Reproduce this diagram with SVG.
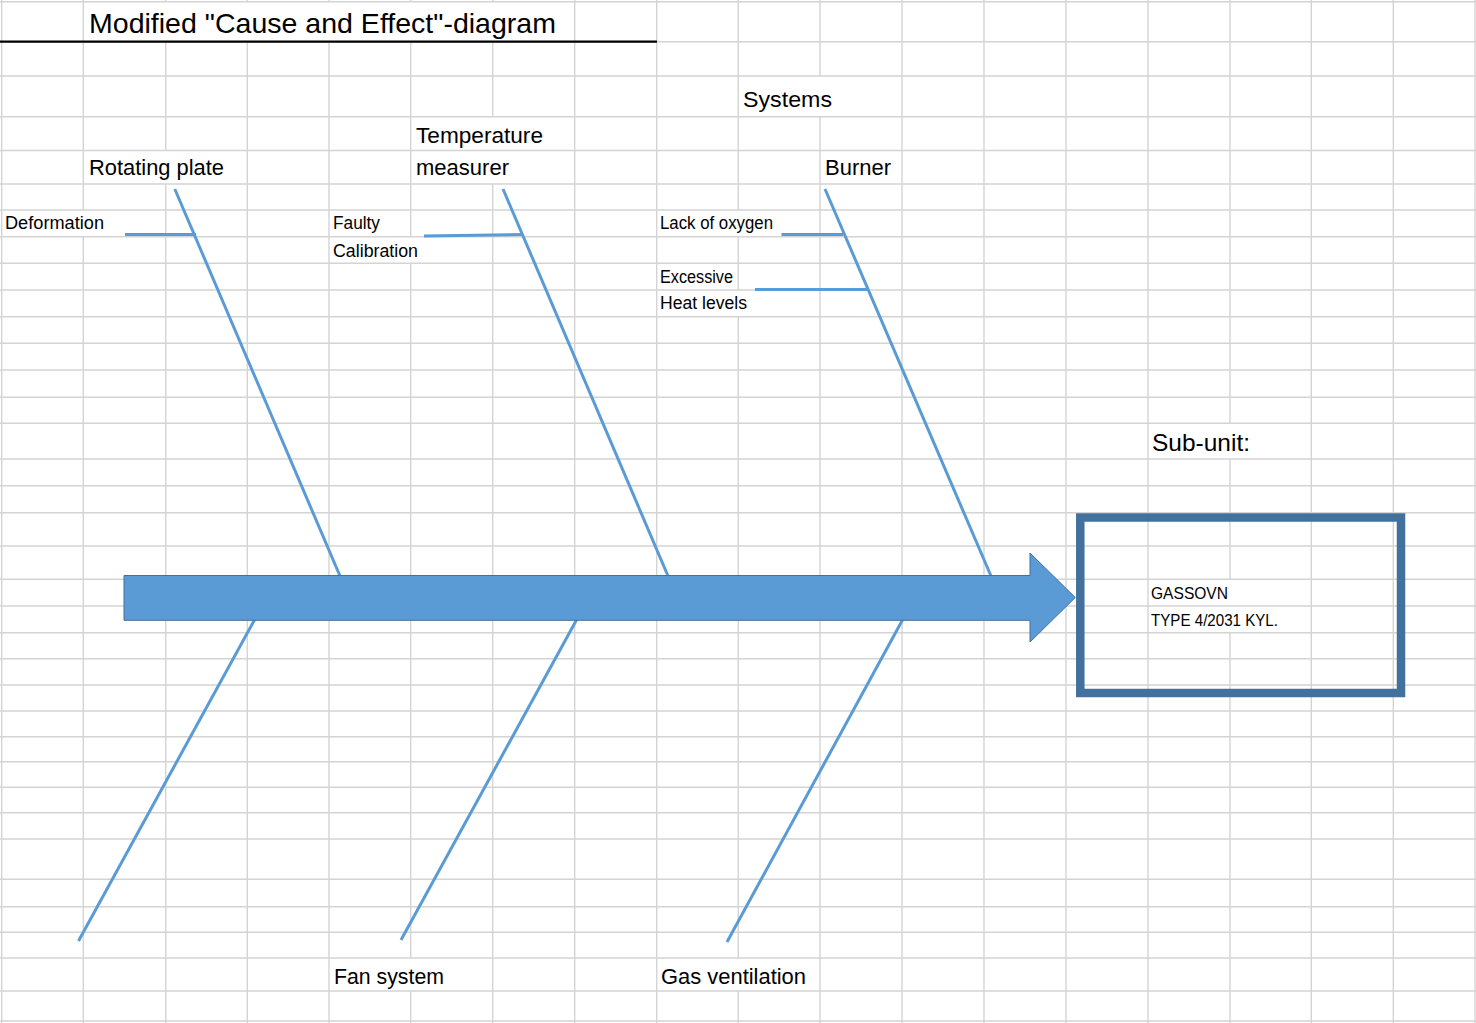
<svg xmlns="http://www.w3.org/2000/svg" width="1476" height="1023" viewBox="0 0 1476 1023">
<style>
.grid{stroke:#D4D4D4;stroke-width:1.4;fill:none}
.bone{stroke:#5B9BD5;stroke-width:3;fill:none;stroke-linecap:butt}
.t{font-family:"Liberation Sans",Arial,sans-serif;fill:#000}
.title{font-size:28.5px}
.cat{font-size:22px}
.cause{font-size:17.5px}
.sub{font-size:24.5px}
.unit{font-size:16.5px}
</style>
<rect width="1476" height="1023" fill="#FFFFFF"/>
<g id="grid">
<path class="grid" d="M0 1.7H1476M0 41.7H1476M0 76H1476M0 116.7H1476M0 150.5H1476M0 184H1476M0 210H1476M0 236.7H1476M0 263.3H1476M0 290H1476M0 316.7H1476M0 343.3H1476M0 370H1476M0 397.3H1476M0 423.3H1476M0 459H1476M0 485.7H1476M0 512.7H1476M0 546H1476M0 579.3H1476M0 606H1476M0 632.7H1476M0 658.7H1476M0 685H1476M0 711H1476M0 736.7H1476M0 761.7H1476M0 787.3H1476M0 812.7H1476M0 839H1476M0 879.3H1476M0 906.7H1476M0 932.3H1476M0 958H1476M0 991H1476M0 1021H1476"/>
<path class="grid" d="M1.7 0V1023
M83.3 0V210M83.3 236.7V1023
M165.7 0V1.7M165.7 41.7V150.5M165.7 184V1023
M247.3 0V1.7M247.3 41.7V1023
M329 0V1.7M329 41.7V1023
M410.7 0V1.7M410.7 41.7V236.7M410.7 263.3V958M410.7 991V1023
M492.7 0V1.7M492.7 41.7V116.7M492.7 184V1023
M574.7 0V1023
M656.7 0V1023
M738.3 0V210M738.3 236.7V290M738.3 316.7V958M738.3 991V1023
M820 0V76M820 116.7V1023
M902 0V1023
M984 0V1023
M1066 0V1023
M1148 0V1023
M1230 0V423.3M1230 459V579.3M1230 632.7V1023
M1311.3 0V1023
M1393.3 0V1023
M1475 0V1023"/>
</g>
<g id="title">
<line x1="0" y1="41.7" x2="657" y2="41.7" stroke="#000" stroke-width="2.2"/>
<text class="t title" x="89" y="33" textLength="467" lengthAdjust="spacingAndGlyphs">Modified "Cause and Effect"-diagram</text>
</g>
<g id="connectors">
<line class="bone" x1="174.8" y1="189" x2="340" y2="576"/>
<line class="bone" x1="503" y1="189" x2="668" y2="576"/>
<line class="bone" x1="825" y1="189" x2="991" y2="576"/>
<line class="bone" x1="125" y1="234.5" x2="196" y2="234.5"/>
<line class="bone" x1="424" y1="236" x2="523" y2="234.5"/>
<line class="bone" x1="781.5" y1="234.5" x2="843" y2="234.5"/>
<line class="bone" x1="755" y1="289.5" x2="867.5" y2="289.5"/>
<line class="bone" x1="255" y1="619" x2="78.5" y2="941"/>
<line class="bone" x1="577" y1="619" x2="401" y2="940"/>
<line class="bone" x1="903" y1="619" x2="727" y2="942"/>
</g>
<g id="spine">
<path d="M124 575.5H1030V553L1075.3 597.5L1030 642V620.3H124Z" fill="#5B9BD5" stroke="#41719C" stroke-width="1"/>
</g>
<g id="cat-rotating-plate"><text class="t cat" x="89" y="175" textLength="135" lengthAdjust="spacingAndGlyphs">Rotating plate</text></g>
<g id="cat-temperature"><text class="t cat" x="416" y="143" textLength="127" lengthAdjust="spacingAndGlyphs">Temperature</text><text class="t cat" x="416" y="175" textLength="93" lengthAdjust="spacingAndGlyphs">measurer</text></g>
<g id="cat-systems"><text class="t cat" x="743" y="106.7" textLength="89" lengthAdjust="spacingAndGlyphs">Systems</text></g>
<g id="cat-burner"><text class="t cat" x="825" y="174.5" textLength="66" lengthAdjust="spacingAndGlyphs">Burner</text></g>
<g id="cat-fan"><text class="t cat" x="334" y="983.5" textLength="110" lengthAdjust="spacingAndGlyphs">Fan system</text></g>
<g id="cat-gas"><text class="t cat" x="661" y="983.5" textLength="145" lengthAdjust="spacingAndGlyphs">Gas ventilation</text></g>
<g id="cause-deformation"><text class="t cause" x="5" y="229.3" textLength="99" lengthAdjust="spacingAndGlyphs">Deformation</text></g>
<g id="cause-calibration"><text class="t cause" x="333" y="229.3" textLength="47" lengthAdjust="spacingAndGlyphs">Faulty</text><text class="t cause" x="333" y="256.5" textLength="85" lengthAdjust="spacingAndGlyphs">Calibration</text></g>
<g id="cause-oxygen"><text class="t cause" x="660" y="229.3" textLength="113" lengthAdjust="spacingAndGlyphs">Lack of oxygen</text></g>
<g id="cause-heat"><text class="t cause" x="660" y="282.7" textLength="73" lengthAdjust="spacingAndGlyphs">Excessive</text><text class="t cause" x="660" y="309.3" textLength="87" lengthAdjust="spacingAndGlyphs">Heat levels</text></g>
<g id="subunit-label"><text class="t sub" x="1152" y="451" textLength="98" lengthAdjust="spacingAndGlyphs">Sub-unit:</text></g>
<g id="effect">
<rect x="1080.3" y="517.5" width="320.7" height="175.5" fill="none" stroke="#41719C" stroke-width="8.5"/>
<text class="t unit" x="1151" y="599" textLength="77" lengthAdjust="spacingAndGlyphs">GASSOVN</text>
<text class="t unit" x="1151" y="625.7" textLength="127" lengthAdjust="spacingAndGlyphs">TYPE 4/2031 KYL.</text>
</g>
</svg>
